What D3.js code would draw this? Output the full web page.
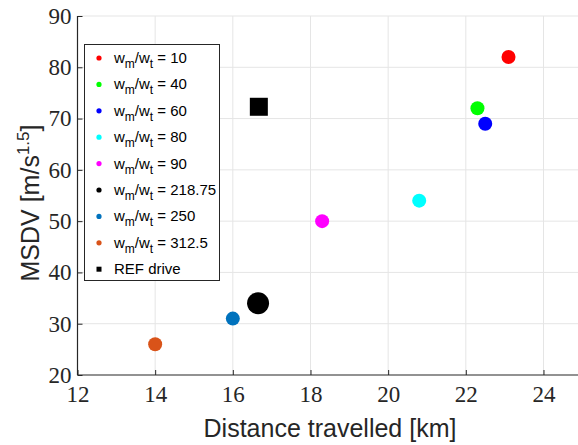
<!DOCTYPE html>
<html><head><meta charset="utf-8">
<script src="https://cdn.jsdelivr.net/npm/d3@7"></script>
<style>body{margin:0;background:#fff}svg{display:block}
.tick text{font-family:"Liberation Serif",serif !important;font-size:23px !important;}</style>
</head><body>
<script>
const ratios = ["10","40","60","80","90","218.75","250","312.5"];
const distance = [23.1, 22.3, 22.5, 20.8, 18.3, 16.65, 16.0, 14.0];
const msdv = [82, 72, 69, 54, 50, 34, 31, 26];
const colors = ["#ff0000","#00ff00","#0000ff","#00ffff","#ff00ff","#000000","#0072bd","#d95319"];
const bigMarker = [false,false,false,false,false,true,false,false];
const refDrive = {label:"REF drive", distance:16.67, msdv:72.3};
const xTicks = [12,14,16,18,20,22,24];
const yTicks = [20,30,40,50,60,70,80,90];

const W=578,H=445;
const svg=d3.select("body").append("svg").attr("width",W).attr("height",H);
const x=d3.scaleLinear().domain([12,25]).range([77.5,582.3]);
const y=d3.scaleLinear().domain([20,90]).range([375,16]);
const axisCol="#262626", gridCol="#e5e5e5";
const sans="Liberation Sans";

const g=svg.append("g");
g.selectAll(".gx").data(xTicks.slice(1)).join("line")
 .attr("x1",d=>x(d)).attr("x2",d=>x(d)).attr("y1",y(20)).attr("y2",y(90))
 .attr("stroke",gridCol).attr("stroke-width",1);
g.selectAll(".gy").data(yTicks.slice(1)).join("line")
 .attr("x1",x(12)).attr("x2",W).attr("y1",d=>y(d)).attr("y2",d=>y(d))
 .attr("stroke",gridCol).attr("stroke-width",1);

const xAxis=d3.axisBottom(x).tickValues(xTicks).tickSize(-5).tickPadding(11).tickFormat(d3.format("d"));
const yAxis=d3.axisLeft(y).tickValues(yTicks).tickSize(-5).tickPadding(6).tickFormat(d3.format("d"));
const gx=svg.append("g").attr("transform",`translate(0,${y(20)})`).call(xAxis);
const gy=svg.append("g").attr("transform",`translate(${x(12)},0)`).call(yAxis);
[gx,gy].forEach(a=>{
  a.attr("font-family","Liberation Serif").attr("font-size",23);
  a.select(".domain").remove();
  a.selectAll(".tick line").attr("stroke",axisCol);
  a.selectAll(".tick text").attr("fill",axisCol).attr("font-family","Liberation Serif").attr("font-size",23);
});
svg.append("line").attr("x1",x(12)).attr("x2",W).attr("y1",y(20)).attr("y2",y(20)).attr("stroke",axisCol).attr("stroke-width",1.2);
svg.append("line").attr("x1",x(12)).attr("x2",x(12)).attr("y1",y(20)).attr("y2",y(90)).attr("stroke",axisCol).attr("stroke-width",1.2);

svg.selectAll(".pt").data(distance.map((d,i)=>({d,m:msdv[i],c:colors[i],b:bigMarker[i]}))).join("circle")
 .attr("cx",d=>x(d.d)).attr("cy",d=>y(d.m)).attr("r",d=>d.b?11:7).attr("fill",d=>d.c);
svg.append("rect").attr("x",x(refDrive.distance)-9).attr("y",y(refDrive.msdv)-9).attr("width",18).attr("height",18).attr("fill","#000");

svg.append("text").attr("x",330).attr("y",437).attr("text-anchor","middle")
 .style("font-family",sans).style("font-size","25px").attr("fill",axisCol)
 .text("Distance travelled [km]");
const yl=svg.append("text").attr("transform","translate(39,203) rotate(-90)").attr("text-anchor","middle")
 .style("font-family",sans).style("font-size","25px").attr("fill",axisCol);
yl.append("tspan").text("MSDV [m/s");
yl.append("tspan").attr("dy",-10).style("font-size","17px").text("1.5");
yl.append("tspan").attr("dy",10).text("]");

const lg=svg.append("g");
lg.append("rect").attr("x",84.5).attr("y",44.5).attr("width",135).attr("height",236)
 .attr("fill","#fff").attr("stroke",axisCol).attr("stroke-width",1);
const rowY=i=>58+i*26.4;
ratios.forEach((r,i)=>{
  lg.append("circle").attr("cx",99).attr("cy",rowY(i)).attr("r",2.6).attr("fill",colors[i]);
  const t=lg.append("text").attr("x",114).attr("y",rowY(i)+5).style("font-family",sans).style("font-size","15px").attr("fill","#000");
  t.append("tspan").text("w");
  t.append("tspan").attr("dy",5).style("font-size","12px").text("m");
  t.append("tspan").attr("dy",-5).text("/w");
  t.append("tspan").attr("dy",5).style("font-size","12px").text("t");
  t.append("tspan").attr("dy",-5).text(" = "+r);
});
const ri=ratios.length;
lg.append("rect").attr("x",96.5).attr("y",rowY(ri)-2.5).attr("width",5).attr("height",5).attr("fill","#000");
lg.append("text").attr("x",114).attr("y",rowY(ri)+5).style("font-family",sans).style("font-size","15px").attr("fill","#000").text(refDrive.label);
</script>
</body></html>
